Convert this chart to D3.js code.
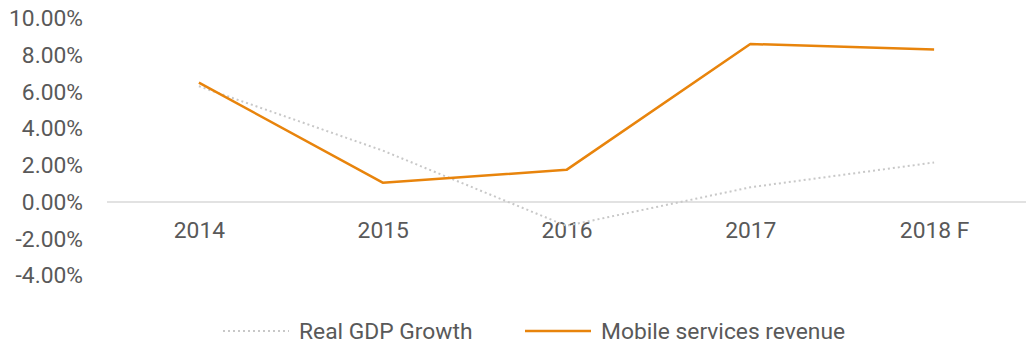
<!DOCTYPE html>
<html>
<head>
<meta charset="utf-8">
<script src="https://cdn.jsdelivr.net/npm/d3@7"></script>
<style>
  body { margin: 0; background: #fff; }
  text { font-family: Roboto, sans-serif; fill: #595959; }
</style>
</head>
<body>
<script>
var w = 1033;
var h = 354;

var years = ["2014", "2015", "2016", "2017", "2018 F"];
var gdpGrowth = [6.3, 2.8, -1.3, 0.8, 2.15];
var mobileRevenue = [6.5, 1.05, 1.75, 8.6, 8.3];
var yTicks = [-4, -2, 0, 2, 4, 6, 8, 10];
var seriesNames = ["Real GDP Growth", "Mobile services revenue"];

var orange = "#e8840c";
var grey = "#c8c8c8";
var fontSize = 22.8;

var xScale = d3.scalePoint()
               .domain(years)
               .range([107, 1026])
               .padding(0.5);

var yScale = d3.scaleLinear()
               .domain([-4, 10])
               .range([275.5, 18.25]);

var svg = d3.select("body")
            .append("svg")
            .attr("width", w)
            .attr("height", h);

// zero line
svg.append("line")
   .attr("x1", 107)
   .attr("x2", 1026)
   .attr("y1", yScale(0))
   .attr("y2", yScale(0))
   .attr("stroke", "#d9d9d9")
   .attr("stroke-width", 1.5);

// y axis labels
var yAxis = d3.axisLeft(yScale)
              .tickValues(yTicks)
              .tickSize(0)
              .tickPadding(0)
              .tickFormat(function(d) { return d.toFixed(2) + "%"; });

svg.append("g")
   .attr("transform", "translate(83,0)")
   .call(yAxis)
   .call(function(g) { g.select(".domain").remove(); })
   .selectAll("text")
   .attr("font-size", fontSize)
   .attr("font-family", "Roboto, sans-serif")
   .attr("fill", "#595959");

// x axis labels
var xAxis = d3.axisBottom(xScale)
              .tickSize(0)
              .tickPadding(0);

svg.append("g")
   .attr("transform", "translate(0," + (yScale(0) + 20) + ")")
   .call(xAxis)
   .call(function(g) { g.select(".domain").remove(); })
   .selectAll("text")
   .attr("font-size", fontSize)
   .attr("font-family", "Roboto, sans-serif")
   .attr("fill", "#595959");

var line = d3.line()
             .x(function(d, i) { return xScale(years[i]); })
             .y(function(d) { return yScale(d); });

svg.append("path")
   .datum(gdpGrowth)
   .attr("d", line)
   .attr("fill", "none")
   .attr("stroke", grey)
   .attr("stroke-width", 2)
   .attr("stroke-dasharray", "2,3");

svg.append("path")
   .datum(mobileRevenue)
   .attr("d", line)
   .attr("fill", "none")
   .attr("stroke", orange)
   .attr("stroke-width", 2.5)
   .attr("stroke-linejoin", "round");

// legend
var legend = svg.append("g");
var legendX = [223, 525];
var legendY = 331;

seriesNames.forEach(function(name, i) {
  legend.append("line")
        .attr("x1", legendX[i])
        .attr("x2", legendX[i] + 66)
        .attr("y1", legendY)
        .attr("y2", legendY)
        .attr("stroke", i == 0 ? grey : orange)
        .attr("stroke-width", i == 0 ? 2 : 2.5)
        .attr("stroke-dasharray", i == 0 ? "2,3" : null);
  legend.append("text")
        .attr("x", legendX[i] + 76)
        .attr("y", legendY)
        .attr("dy", "0.35em")
        .attr("font-size", fontSize)
        .text(name);
});
</script>
</body>
</html>
